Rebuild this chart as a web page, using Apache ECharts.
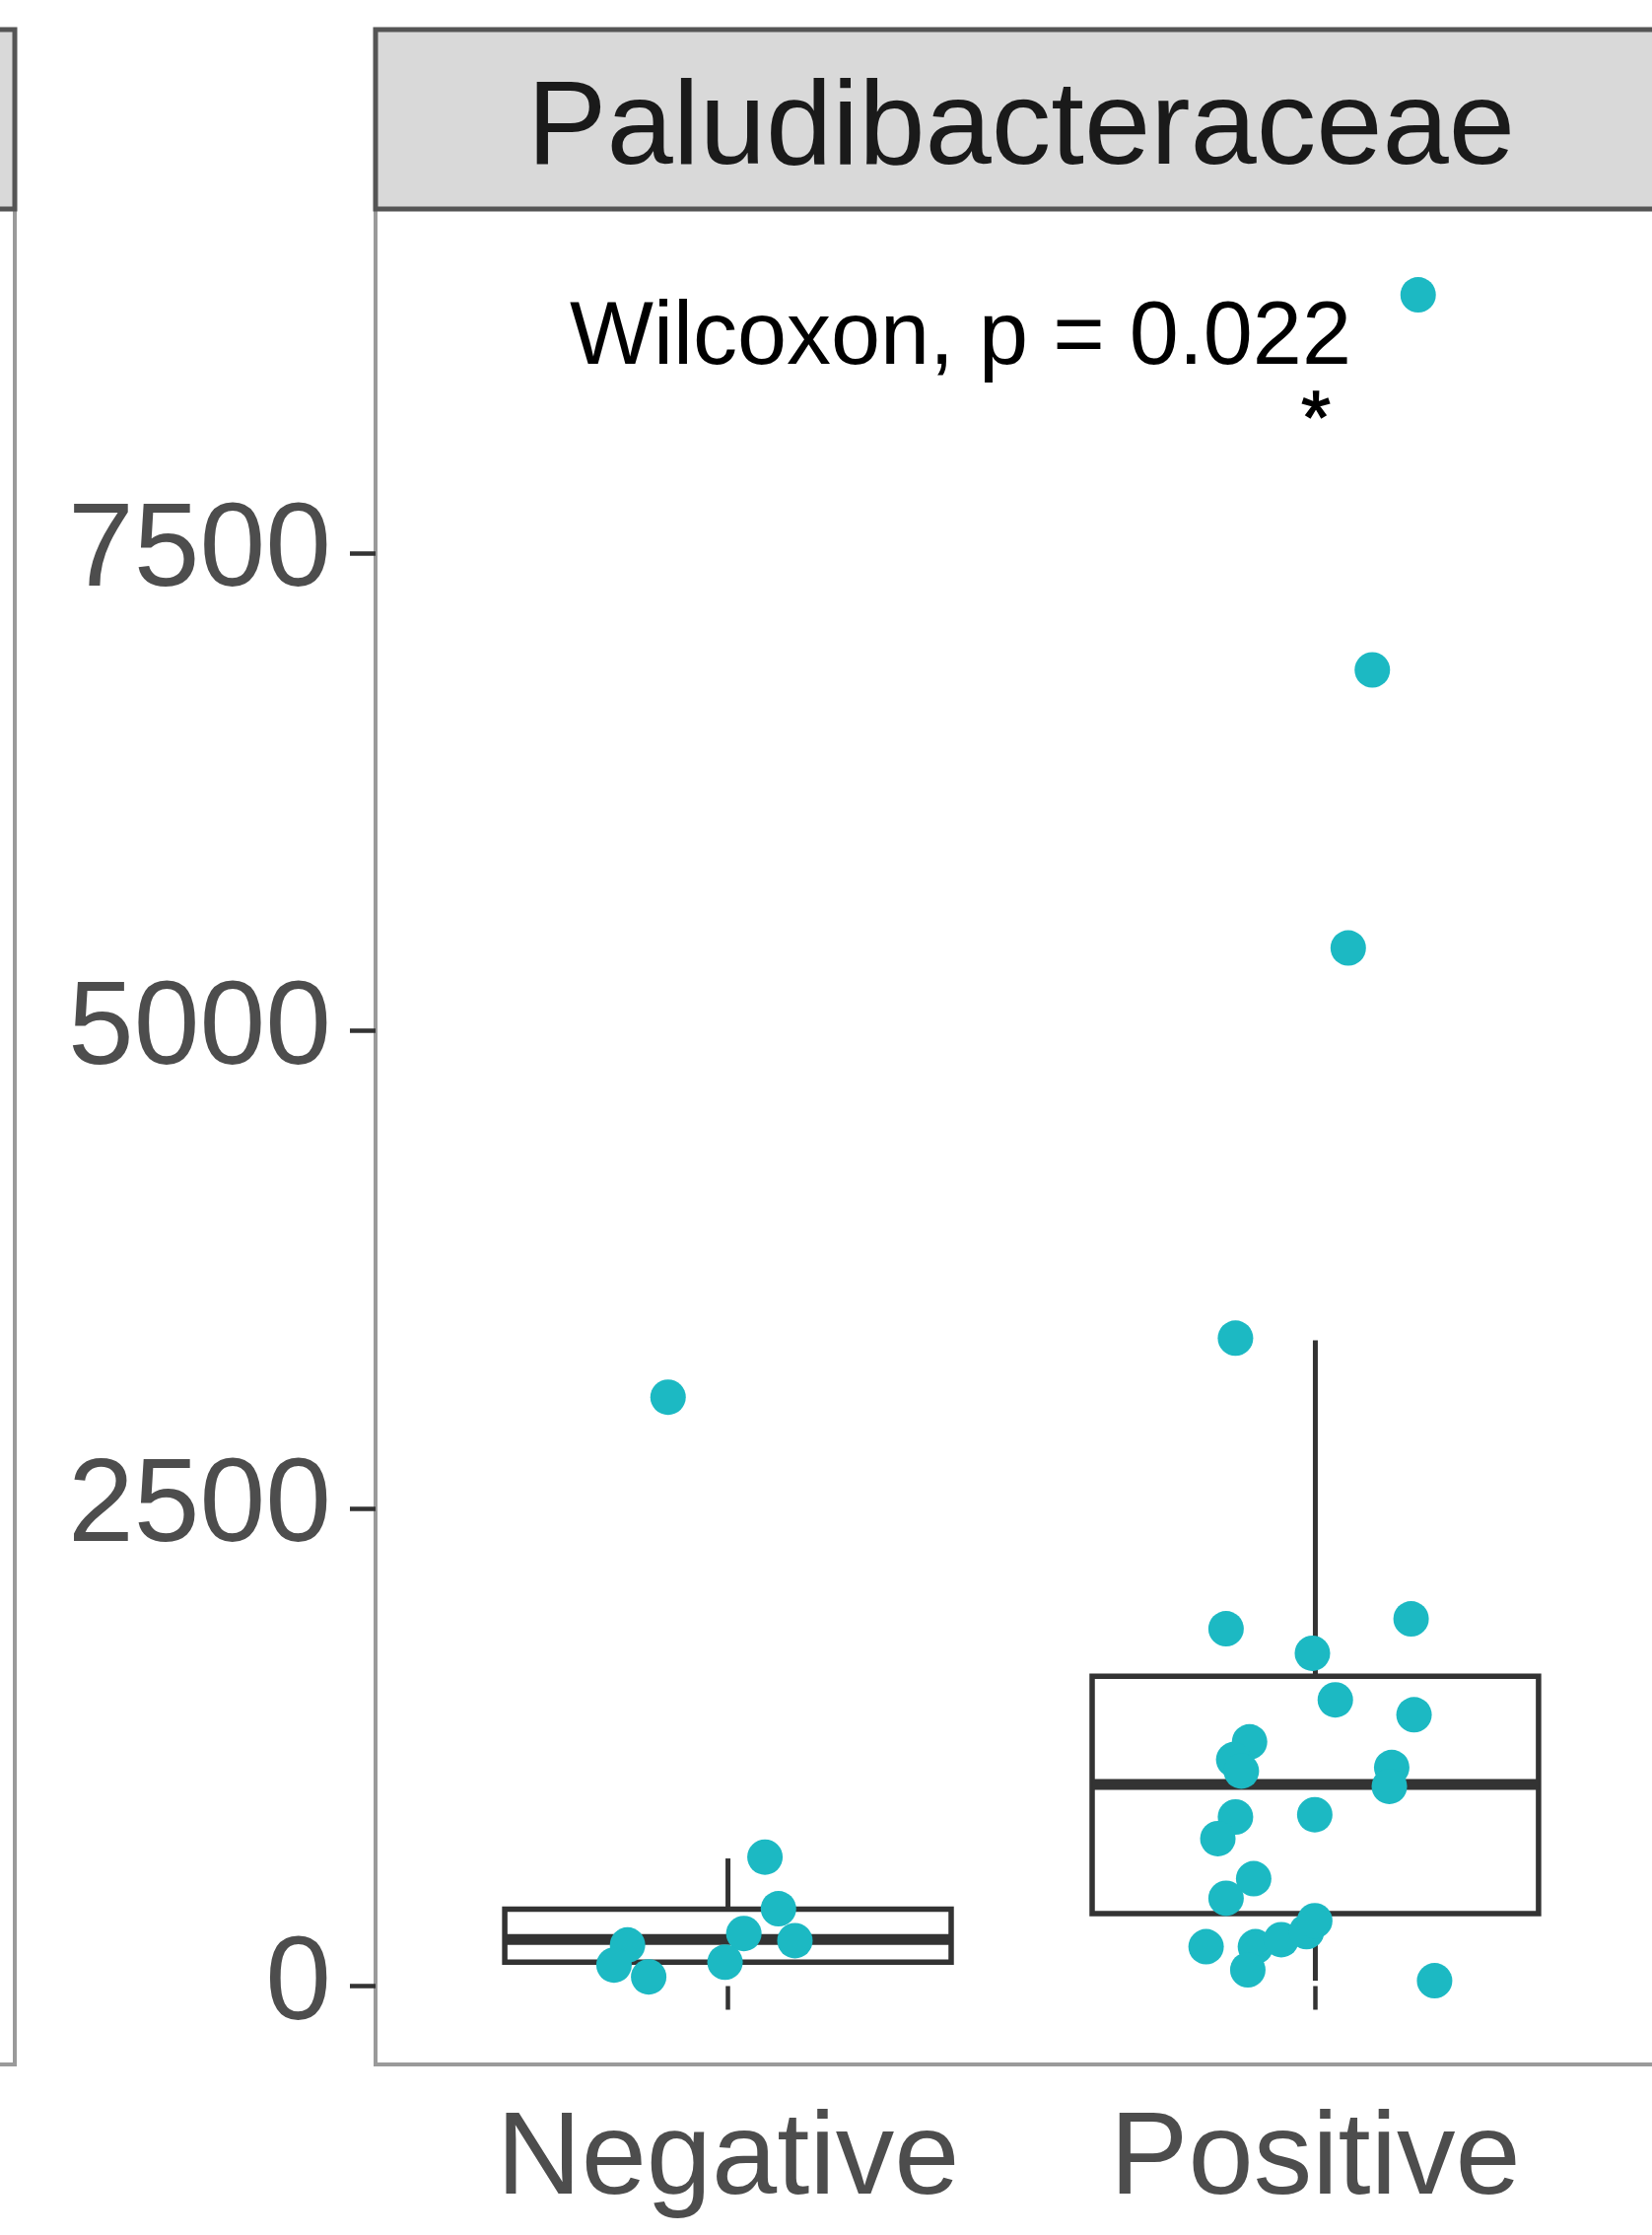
<!DOCTYPE html>
<html><head><meta charset="utf-8">
<script src="https://cdn.jsdelivr.net/npm/echarts@6/dist/echarts.min.js"></script>
<style>html,body{margin:0;padding:0;background:#fff;overflow:hidden}#c{width:1720px;height:2267px}</style>
</head><body><div id="c"></div>
<script>
// ---- data ----
const categories = ['Negative', 'Positive'];
const yTicks = [0, 2500, 5000, 7500];
const negJitterX = [0.898, 1.063, 1.086, 1.114, 1.027, 0.995, 0.829, 0.806, 0.865];
const negValues  = [3082, 675, 405, 238, 275, 125, 215, 110, 48];
const posJitterX = [2.175, 2.097, 2.056, 1.864, 1.848, 2.163, 1.995, 2.034, 2.168, 1.888, 1.861, 1.874,
                    2.130, 2.126, 1.999, 1.864, 1.834, 1.895, 1.848, 1.814, 1.898, 1.942, 1.985, 1.999, 1.885, 2.203];
const posValues  = [8851, 6888, 5433, 3391, 1870, 1922, 1742, 1498, 1420, 1278, 1185, 1125,
                    1144, 1045, 897, 885, 772, 562, 460, 206, 206, 243, 285, 342, 85, 28];
const boxLow    = [48, 28];
const boxQ1     = [125, 380];
const boxMedian = [244, 1055];
const boxQ3     = [402, 1622];
const boxHigh   = [668, 3380];
const facetTitle = 'Paludibacteraceae';
const testLabel = 'Wilcoxon, p = 0.022';
const signifLabel = '*';

const FONT = '"Liberation Sans", Arial, Helvetica, sans-serif';
const BOX_HALF = 0.38;

const boxData = categories.map((c, i) => [i + 1, boxLow[i], boxQ1[i], boxMedian[i], boxQ3[i], boxHigh[i]]);
const pointData = negJitterX.map((x, i) => [x, negValues[i]])
  .concat(posJitterX.map((x, i) => [x, posValues[i]]));

const chart = echarts.init(document.getElementById('c'), null, {width: 1720, height: 2267, renderer: 'canvas'});

chart.setOption({
  backgroundColor: '#ffffff',
  animation: false,
  grid: {
    left: 381, top: 212, width: 1311, height: 1882,
    show: true, backgroundColor: '#ffffff', borderColor: '#9a9a9a', borderWidth: 4,
    containLabel: false
  },
  xAxis: {
    type: 'value', min: 0.4, max: 2.6,
    axisLine: {show: false},
    splitLine: {show: false},
    axisTick: {show: true, customValues: [1, 2], length: 24, lineStyle: {color: '#333333', width: 4.5}},
    axisLabel: {
      show: true, customValues: [1, 2], margin: 39,
      formatter: v => categories[Math.round(v) - 1],
      fontSize: 119, color: '#4D4D4D', fontFamily: FONT
    }
  },
  yAxis: {
    type: 'value', min: -410, max: 9300,
    axisLine: {show: false},
    splitLine: {show: false},
    axisTick: {show: true, customValues: yTicks, length: 26, lineStyle: {color: '#333333', width: 4.5}},
    axisLabel: {
      show: true, customValues: yTicks, margin: 45,
      formatter: v => String(v),
      fontSize: 120, color: '#4D4D4D', fontFamily: FONT
    }
  },
  series: [
    {
      type: 'custom',
      data: boxData,
      z: 2,
      renderItem: function (params, api) {
        const x = api.value(0);
        const lo = api.value(1), q1 = api.value(2), med = api.value(3), q3 = api.value(4), hi = api.value(5);
        const pHi = api.coord([x, hi]);
        const pLo = api.coord([x, lo]);
        const pQ3L = api.coord([x - BOX_HALF, q3]);
        const pQ1R = api.coord([x + BOX_HALF, q1]);
        const pMedL = api.coord([x - BOX_HALF, med]);
        const pMedR = api.coord([x + BOX_HALF, med]);
        const stroke = '#333333';
        return {
          type: 'group',
          children: [
            {type: 'line', shape: {x1: pHi[0], y1: pHi[1], x2: pHi[0], y2: pQ3L[1]}, style: {stroke: stroke, lineWidth: 5}},
            {type: 'line', shape: {x1: pLo[0], y1: pLo[1], x2: pLo[0], y2: pQ1R[1]}, style: {stroke: stroke, lineWidth: 5}},
            {type: 'rect', shape: {x: pQ3L[0], y: pQ3L[1], width: pQ1R[0] - pQ3L[0], height: pQ1R[1] - pQ3L[1]},
             style: {fill: '#ffffff', stroke: stroke, lineWidth: 5.5}},
            {type: 'line', shape: {x1: pMedL[0], y1: pMedL[1], x2: pMedR[0], y2: pMedR[1]}, style: {stroke: stroke, lineWidth: 11}}
          ]
        };
      }
    },
    {
      type: 'scatter',
      data: pointData,
      z: 5,
      symbol: 'circle',
      symbolSize: 36,
      itemStyle: {color: '#1CB9C3', opacity: 1}
    }
  ],
  graphic: [
    // neighbouring facet (cut off at left edge)
    {type: 'rect', z: 10, shape: {x: -30, y: 212, width: 45, height: 1882}, style: {fill: 'none', stroke: '#9a9a9a', lineWidth: 4}},
    {type: 'rect', z: 11, shape: {x: -30, y: 30, width: 45, height: 182}, style: {fill: '#D9D9D9', stroke: '#555555', lineWidth: 5}},
    // strip of this facet
    {type: 'rect', z: 11, shape: {x: 381, y: 30, width: 1400, height: 182}, style: {fill: '#D9D9D9', stroke: '#555555', lineWidth: 5}},
    {type: 'text', z: 12, x: 1036, y: 133,
     style: {text: facetTitle, fontSize: 121, fontFamily: FONT, fill: '#1A1A1A', align: 'center', verticalAlign: 'middle'}},
    {type: 'text', z: 12, x: 578, y: 344,
     style: {text: testLabel, fontSize: 90, fontFamily: FONT, fill: '#000000', align: 'left', verticalAlign: 'middle'}},
    {type: 'text', z: 12, x: 1335, y: 428,
     style: {text: signifLabel, fontSize: 76, fontFamily: FONT, fill: '#000000', align: 'center', verticalAlign: 'middle',
             stroke: '#000000', lineWidth: 1.5}}
  ]
});
</script>
</body></html>
